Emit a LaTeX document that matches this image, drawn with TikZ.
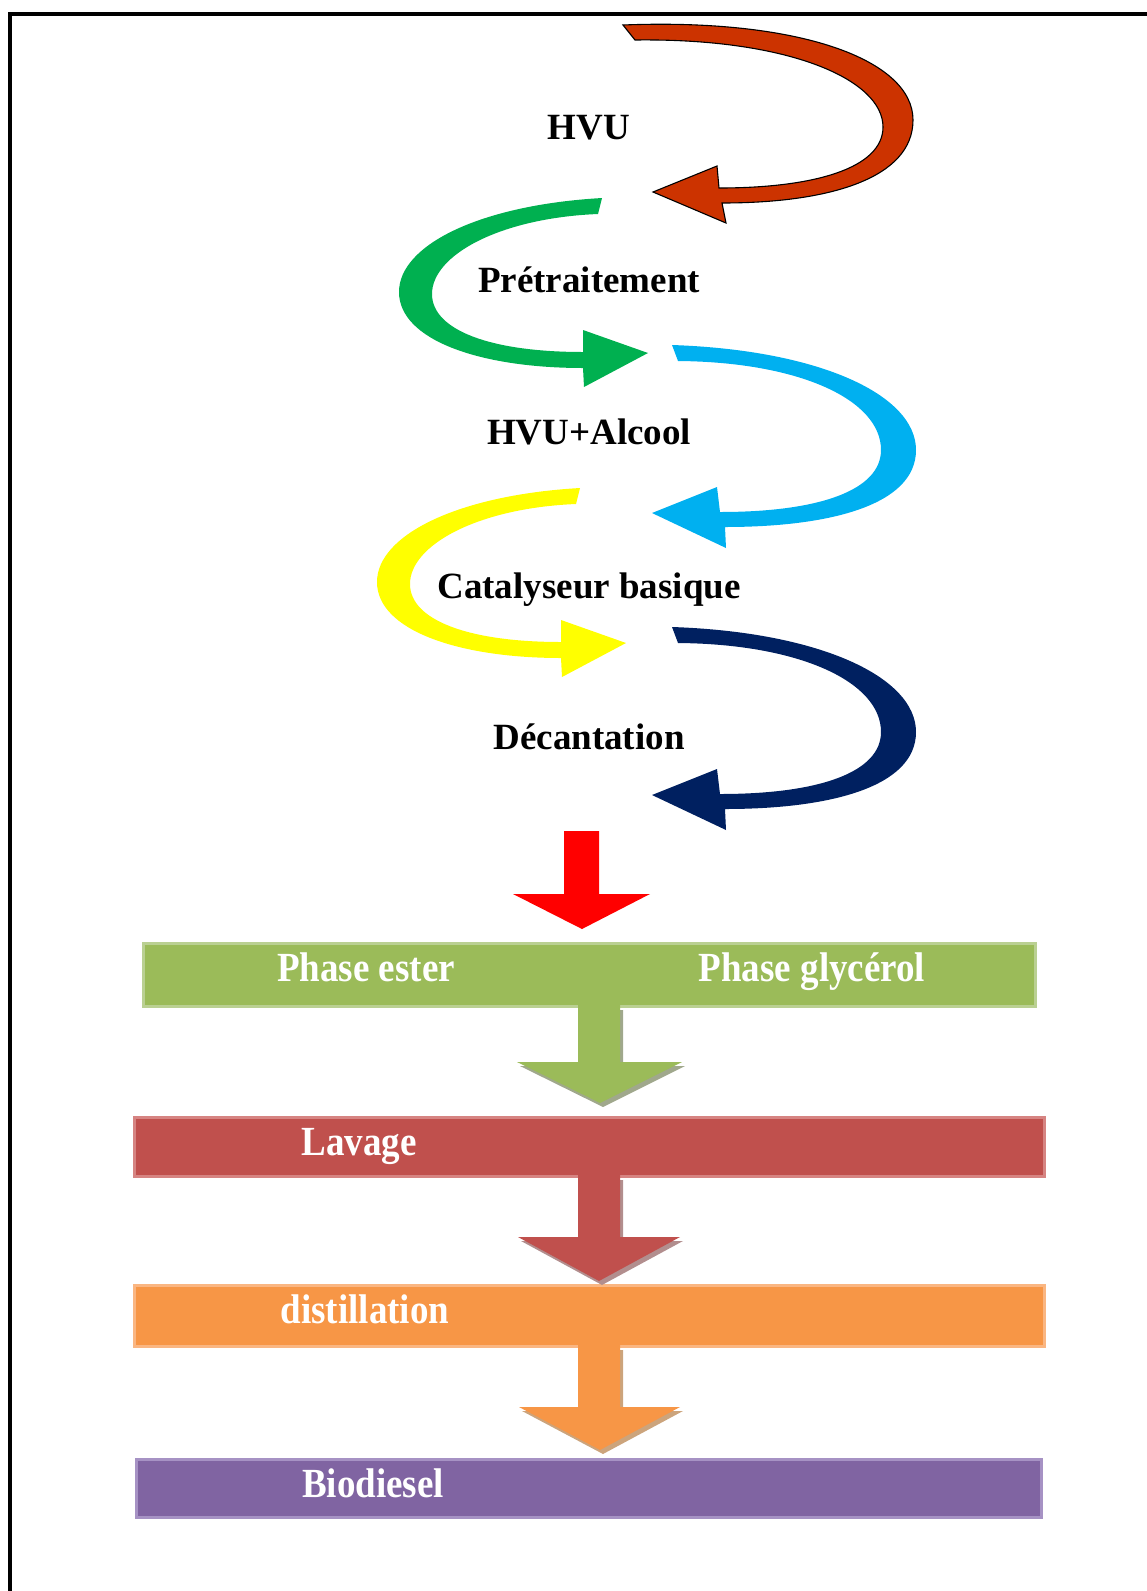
\documentclass[tikz,border=0pt]{standalone}
\usepackage{fontspec}
\setmainfont{Liberation Serif}
\definecolor{cRust}{RGB}{204,51,0}
\definecolor{cGreen}{RGB}{0,176,80}
\definecolor{cCyan}{RGB}{0,176,240}
\definecolor{cYellow}{RGB}{255,255,0}
\definecolor{cNavy}{RGB}{0,32,96}
\definecolor{cRed}{RGB}{255,0,0}
\definecolor{cOlive}{RGB}{155,187,89}
\definecolor{cOliveB}{RGB}{186,208,146}
\definecolor{cBrick}{RGB}{192,80,77}
\definecolor{cBrickB}{RGB}{214,132,130}
\definecolor{cOrange}{RGB}{247,150,70}
\definecolor{cOrangeB}{RGB}{250,182,130}
\definecolor{cPurple}{RGB}{128,100,162}
\definecolor{cPurpleB}{RGB}{166,146,196}
\definecolor{sOlive}{RGB}{160,168,140}
\definecolor{sBrick}{RGB}{178,142,142}
\definecolor{sOrange}{RGB}{204,164,124}
\begin{document}
\begin{tikzpicture}[x=1pt,y=-1pt,
  lbl/.style={font=\fontsize{37}{40}\selectfont\bfseries, inner sep=0pt, anchor=base},
  wlbl/.style={lbl, text=white},
  bar/.style={line width=3pt, inner sep=0pt, minimum width=#1},
  barh/.style={minimum height=#1}]
\useasboundingbox (0,0) rectangle (1147,1591);
% frame
\draw[line width=4pt] (10,1591) -- (10,14) -- (1147,14);

% red-brown curved arrow
\draw[fill=cRust, line width=1.1pt, line join=miter]
  (623,25) .. controls (800,18) and (913,60) .. (913,120)
  .. controls (913,178) and (830,203) .. (722,203)
  -- (726,223) -- (653,192) -- (717,166) -- (719,188)
  .. controls (815,188) and (883,168) .. (883,127)
  .. controls (883,80) and (790,38) .. (635,40) -- cycle;

% green curved arrow (and yellow as shifted copy)
\def\leftarc{(602,198) .. controls (480,205) and (399,245) .. (399,292)
  .. controls (399,340) and (480,368) .. (583,368)
  -- (584,387) -- (648,353) -- (583,330) -- (583,352)
  .. controls (490,352) and (432,330) .. (432,294)
  .. controls (432,255) and (500,218) .. (598,214) -- cycle}
\fill[cGreen] \leftarc;
\begin{scope}[shift={(-22,290)}]
\fill[cYellow] \leftarc;
\end{scope}

% cyan curved arrow (and navy as shifted copy)
\def\rightarc{(672,345) .. controls (820,350) and (916,395) .. (916,450)
  .. controls (916,505) and (830,527) .. (725,527)
  -- (726,548) -- (652,513) -- (717,487) -- (720,512)
  .. controls (820,512) and (881,490) .. (881,450)
  .. controls (881,400) and (800,362) .. (678,361) -- cycle}
\fill[cCyan] \rightarc;
\begin{scope}[shift={(0,282)}]
\fill[cNavy] \rightarc;
\end{scope}

% labels of the spiral
\node[lbl] (hvu) at (589,139) {HVU};
\node[lbl] (pre) at (589,292) {Prétraitement};
\node[lbl] (alc) at (589,444) {HVU+Alcool};
\node[lbl] (cat) at (589,598) {Catalyseur basique};
\node[lbl] (dec) at (589,749) {Décantation};

% red straight arrow
\fill[cRed] (564,831) -- (564,894) -- (513,894) -- (582,929) -- (650,894) -- (599,894) -- (599,831) -- cycle;

% bars
\node[bar=892, barh=63, fill=cOlive, draw=cOliveB] (barA) at (589,974.5) {};
\node[bar=910, barh=59, fill=cBrick, draw=cBrickB] (barB) at (589,1146.5) {};
\node[bar=910, barh=61, fill=cOrange, draw=cOrangeB] (barC) at (589,1315.5) {};
\node[bar=905, barh=58, fill=cPurple, draw=cPurpleB] (barD) at (588.5,1488) {};

% down arrows between bars with shadows
\fill[sOlive] (581,1010) -- (581,1066) -- (520,1066) -- (603,1107) -- (685,1066) -- (623,1066) -- (623,1010) -- cycle;
\fill[cOlive] (578,1004) -- (578,1062) -- (517,1062) -- (600,1103) -- (682,1062) -- (620,1062) -- (620,1004) -- cycle;
\fill[sBrick] (581,1180) -- (581,1241) -- (521,1241) -- (602,1285) -- (683,1241) -- (623,1241) -- (623,1180) -- cycle;
\fill[cBrick] (578,1174) -- (578,1237) -- (518,1237) -- (599,1281) -- (680,1237) -- (620,1237) -- (620,1174) -- cycle;
\fill[sOrange] (581,1350) -- (581,1411) -- (522,1411) -- (603,1454) -- (683,1411) -- (623,1411) -- (623,1350) -- cycle;
\fill[cOrange] (578,1344) -- (578,1407) -- (519,1407) -- (600,1450) -- (680,1407) -- (620,1407) -- (620,1344) -- cycle;

% bar labels
\node[wlbl] (ester) at (366,981) {\scalebox{1}[1.12]{Phase ester}};
\node[wlbl] (glyc) at (812,981) {\scalebox{1}[1.12]{Phase glycérol}};
\node[wlbl] (lav) at (359,1155) {\scalebox{1}[1.12]{Lavage}};
\node[wlbl] (dist) at (365,1323) {\scalebox{1}[1.12]{distillation}};
\node[wlbl] (bio) at (373,1497) {\scalebox{1}[1.12]{Biodiesel}};
\end{tikzpicture}
\end{document}
